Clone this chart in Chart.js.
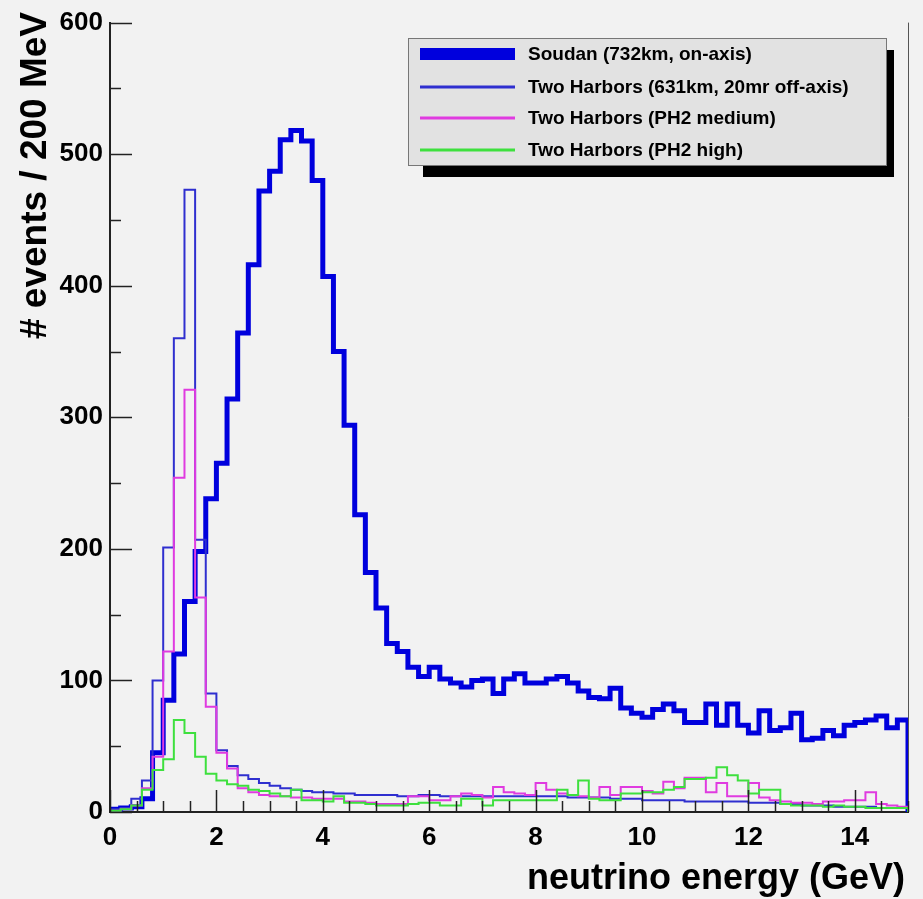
<!DOCTYPE html>
<html><head><meta charset="utf-8">
<script src="https://cdn.jsdelivr.net/npm/chart.js@4"></script>
<style>html,body{margin:0;padding:0;background:#f2f2f2}#wrap{width:923px;height:899px}</style>
</head><body><div id="wrap"><canvas id="c" width="923" height="899"></canvas></div>
<script>
// ---- data (events per 200 MeV bin, bins start at 0 GeV) ----
const binWidth = 0.2; // GeV
const soudan = [2,3,4,10,45,85,120,160,198,238,265,314,364,416,472,487,511,518,510,480,
  407,350,294,226,182,155,128,122,110,103,110,101,98,95,100,101,90,101,105,98,
  98,101,103,98,92,87,86,94,79,75,72,78,82,77,68,68,82,66,82,66,
  60,77,62,64,75,55,56,62,58,66,68,70,73,64,70];
const offAxis = [2,3,10,24,100,201,360,473,207,90,47,35,28,25,22,20,18,17,16,15,
  15,14,14,13,13,13,13,12,12,13,13,12,12,12,12,12,12,12,12,12,
  12,12,12,11,11,11,11,10,10,10,9,9,9,9,8,8,8,8,8,8,
  7,7,7,6,6,5,5,5,4,4,4,4,3,3,3];
const ph2Medium = [1,2,5,18,42,122,254,321,163,80,45,33,18,15,13,12,12,11,11,10,
  10,10,8,8,7,6,6,6,12,12,9,9,12,14,13,11,19,15,14,13,
  22,17,14,13,12,11,19,13,19,19,16,14,23,18,26,26,15,22,12,12,
  22,11,9,8,7,7,6,8,8,9,9,15,6,5,4];
const ph2High = [1,2,5,17,32,40,70,60,42,29,24,21,20,17,16,14,12,17,9,9,
  8,12,7,7,6,5,5,5,6,7,7,5,5,10,10,5,9,9,9,9,
  9,9,17,13,24,10,9,9,14,14,15,15,17,19,25,25,26,34,28,24,
  14,17,17,6,5,5,5,4,5,4,4,3,3,3,3];
const seriesLabels = ['Soudan (732km, on-axis)','Two Harbors (631km, 20mr off-axis)','Two Harbors (PH2 medium)','Two Harbors (PH2 high)'];
const xTickLabels = [0,2,4,6,8,10,12,14];
const yTickLabels = [0,100,200,300,400,500,600];
const xTitle = 'neutrino energy (GeV)';
const yTitle = '# events / 200 MeV';

const FONT = '"Liberation Sans", Arial, Helvetica, sans-serif';
const colors = ['#0000dd','#2f2fcf','#e03be0','#3ee03e'];
const widths = [5,2,2,2];

function histPoints(vals){
  const pts=[{x:0,y:0}];
  vals.forEach((v,i)=>pts.push({x:+(i*binWidth).toFixed(2), y:v}));
  const end = +(vals.length*binWidth).toFixed(2);
  pts.push({x:end, y:vals[vals.length-1]});
  pts.push({x:end, y:0});
  return pts;
}
const allSeries=[soudan,offAxis,ph2Medium,ph2High];

const decor = {
  id:'decor',
  beforeDraw(chart){
    const ctx=chart.ctx; ctx.save(); ctx.fillStyle='#f2f2f2'; ctx.fillRect(0,0,chart.width,chart.height); ctx.restore();
  },
  afterDraw(chart){
    const ctx=chart.ctx, a=chart.chartArea, xs=chart.scales.x, ys=chart.scales.y;
    ctx.save();
    // right frame
    ctx.strokeStyle='#555'; ctx.lineWidth=1;
    ctx.beginPath(); ctx.moveTo(a.right+0.5,a.top); ctx.lineTo(a.right+0.5,a.bottom); ctx.stroke();
    // ticks
    ctx.strokeStyle='#222'; ctx.lineWidth=1.5;
    for(let v=0; v<=600; v+=50){
      const y=Math.round(ys.getPixelForValue(v))+0.5; const L=(v%100===0)?22:11;
      ctx.beginPath(); ctx.moveTo(a.left,y); ctx.lineTo(a.left+L,y); ctx.stroke();
    }
    for(let v=0; v<=15; v+=0.5){
      const x=Math.round(xs.getPixelForValue(v))+0.5; const L=(v%2===0)?22:11;
      ctx.beginPath(); ctx.moveTo(x,a.bottom); ctx.lineTo(x,a.bottom-L); ctx.stroke();
    }
    // legend
    const bx=408, by=38, bw=478, bh=127;
    ctx.fillStyle='#000'; ctx.fillRect(bx+15, by+12, bw-7, bh);
    ctx.fillStyle='#e2e2e2'; ctx.fillRect(bx,by,bw,bh);
    ctx.strokeStyle='#777'; ctx.lineWidth=1; ctx.strokeRect(bx+0.5,by+0.5,bw,bh);
    const rows=[54,87,118,150];
    ctx.font='bold 19px '+FONT; ctx.textBaseline='middle'; ctx.textAlign='left';
    rows.forEach((ry,i)=>{
      ctx.fillStyle=colors[i];
      if(i===0) ctx.fillRect(420,ry-6,95,12); else ctx.fillRect(420,ry-1.5,95,3);
      ctx.fillStyle='#000'; ctx.fillText(seriesLabels[i],528,ry+1);
    });
    // axis titles
    ctx.fillStyle='#000';
    ctx.font='bold 36px '+FONT; ctx.textAlign='right'; ctx.textBaseline='alphabetic';
    ctx.fillText(xTitle, 905, 889);
    ctx.translate(46,12); ctx.rotate(-Math.PI/2);
    ctx.font='bold 37px '+FONT; ctx.textAlign='right'; ctx.textBaseline='alphabetic';
    ctx.fillText(yTitle,0,0);
    ctx.restore();
  }
};

new Chart(document.getElementById('c'),{
  type:'line',
  data:{datasets: allSeries.map((s,i)=>({
    label:seriesLabels[i], data:histPoints(s), stepped:'before',
    borderColor:colors[i], borderWidth:widths[i], pointRadius:0, fill:false,
    order:3-i, borderJoinStyle:'miter', borderCapStyle:'butt'
  }))},
  options:{
    responsive:false, animation:false, devicePixelRatio:1,
    layout:{padding:{left:0,top:18,right:15,bottom:0}},
    plugins:{legend:{display:false},tooltip:{enabled:false}},
    scales:{
      x:{type:'linear',min:0,max:15,
        afterFit(s){s.height=87;},
        afterBuildTicks(s){s.ticks=xTickLabels.map(v=>({value:v}));},
        grid:{display:false,drawTicks:false},
        border:{display:true,color:'#222',width:2},
        ticks:{color:'#000',font:{family:FONT,size:26,weight:'bold'},padding:10,maxRotation:0,autoSkip:false}},
      y:{type:'linear',min:0,max:600,
        afterFit(s){s.width=110;},
        afterBuildTicks(s){s.ticks=yTickLabels.map(v=>({value:v}));},
        grid:{display:false,drawTicks:false},
        border:{display:true,color:'#222',width:2},
        ticks:{color:'#000',font:{family:FONT,size:26,weight:'bold'},padding:7}}
    }
  },
  plugins:[decor]
});
</script></body></html>
